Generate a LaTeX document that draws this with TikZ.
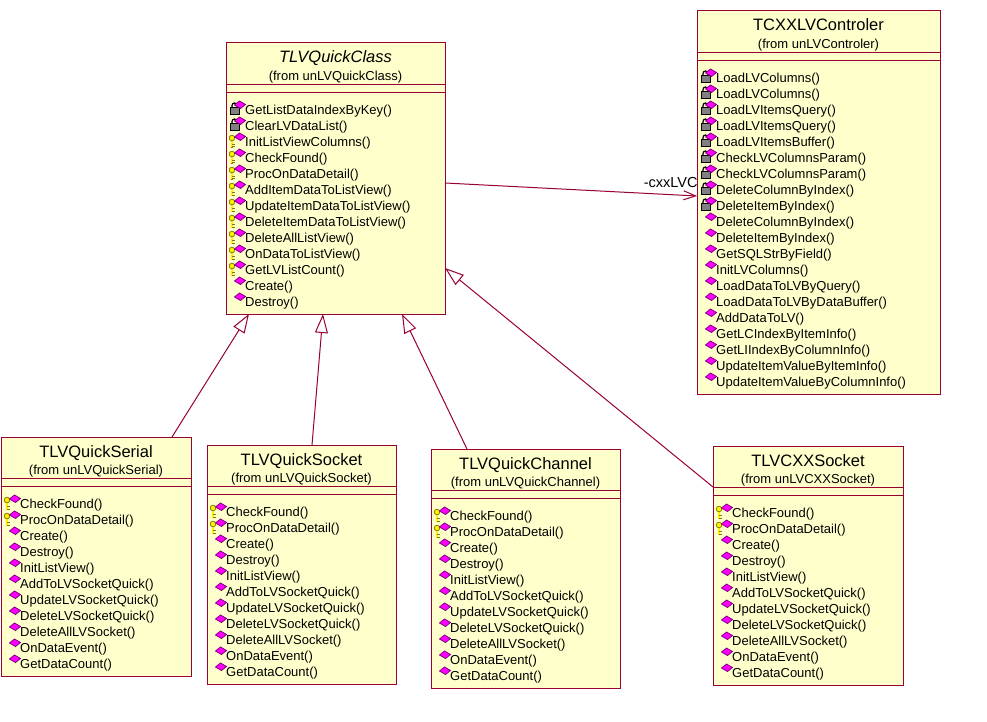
\documentclass[tikz,border=0pt]{standalone}
\usepackage{fontspec}
\setmainfont{Liberation Sans}
\usepackage{tikz}
\usetikzlibrary{%
	calc,%
	arrows.meta,%
	positioning
}

\definecolor{classfill}{HTML}{FFFFCC}
\definecolor{classedge}{HTML}{990033}
\definecolor{keyedge}{HTML}{808000}
\definecolor{iconpink}{HTML}{FF00FF}
\definecolor{iconedge}{HTML}{800080}

% Method icons
\newcommand{\diamondicon}{%
	\filldraw[fill=iconpink, draw=iconedge, line width=0.8pt] (8.5,-5) -- (13.5,-9) -- (19.5,-5.5) -- (14.5,-1.5) -- cycle;%
}
\newcommand{\lockicon}{%
	\draw[black, line width=1.2pt] (6,-3) -- (6,-4.5) arc[start angle=180, end angle=360, radius=2.5] -- (11,-3);%
	\filldraw[fill=gray, draw=black, line width=0.6pt] (4,-3) rectangle (13,4.5);%
}
\newcommand{\keyicon}{%
	\draw[keyedge, line width=2.6pt] (6,-1) -- (6,6);%
	\draw[yellow, line width=1.2pt] (6,-1) -- (6,5.5);%
	\draw[keyedge, line width=1pt] (6,2.5) -- (8.5,2.5) (6,5) -- (8.5,5);%
	\filldraw[fill=yellow, draw=keyedge, line width=0.8pt] (6,-4) circle (2.8);%
}

\tikzset{
	classbox/.style={draw=classedge, fill=classfill, line width=1pt, anchor=north west, inner sep=0pt, outer sep=0pt},
	classline/.style={draw=classedge, line width=1pt},
	classtitle/.style={font=\fontsize{16.5}{18}\selectfont, text height=12pt, text depth=0pt, inner sep=0pt},
	classfrom/.style={font=\fontsize{13}{15}\selectfont, text height=9.3pt, text depth=0pt, inner sep=0pt},
	method/.style={anchor=west, font=\fontsize{13}{15}\selectfont, text height=9.3pt, text depth=0pt, inner sep=0pt},
	inherit/.style={draw=classedge, line width=1pt, -{Triangle[open, length=19pt, width=13pt]}},
	assoc/.style={draw=classedge, line width=1pt, -{Straight Barb[length=12pt, width=9pt]}},
	assoclabel/.style={font=\fontsize{14.5}{16}\selectfont, text height=10pt, text depth=0pt, inner sep=0pt},
	icD/.pic={\diamondicon},
	icK/.pic={\keyicon\diamondicon},
	icL/.pic={\lockicon\diamondicon},
}

% name, position, width, height, title, package, methods
\newcommand{\umlclass}[7]{%
	\node[classbox, minimum width=#3, minimum height=#4] (#1) at #2 {};
	\node[classtitle] (#1-title) at ($(#1.north)+(0,14)$) {#5};
	\node[classfrom] (#1-from) at ($(#1.north)+(0,33)$) {(from #6)};
	\draw[classline] ($(#1.north west)+(0,41.5)$) -- ($(#1.north east)+(0,41.5)$);
	\draw[classline] ($(#1.north west)+(0,49.5)$) -- ($(#1.north east)+(0,49.5)$);
	\foreach \ico/\meth [count=\i from 0] in #7 {
		\pic at ($(#1.north west)+(0,67+16*\i)$) {ic\ico};
		\node[method] (#1-m\i) at ($(#1.north west)+(19,67+16*\i)$) {\meth()};
	}
}

\newcommand{\quickmethods}{L/GetListDataIndexByKey, L/ClearLVDataList, K/InitListViewColumns,
	K/CheckFound, K/ProcOnDataDetail, K/AddItemDataToListView, K/UpdateItemDataToListView,
	K/DeleteItemDataToListView, K/DeleteAllListView, K/OnDataToListView, K/GetLVListCount,
	D/Create, D/Destroy}
\newcommand{\ctrlmethods}{L/LoadLVColumns, L/LoadLVColumns, L/LoadLVItemsQuery, L/LoadLVItemsQuery,
	L/LoadLVItemsBuffer, L/CheckLVColumnsParam, L/CheckLVColumnsParam, L/DeleteColumnByIndex,
	L/DeleteItemByIndex, D/DeleteColumnByIndex, D/DeleteItemByIndex, D/GetSQLStrByField,
	D/InitLVColumns, D/LoadDataToLVByQuery, D/LoadDataToLVByDataBuffer, D/AddDataToLV,
	D/GetLCIndexByItemInfo, D/GetLIIndexByColumnInfo, D/UpdateItemValueByItemInfo,
	D/UpdateItemValueByColumnInfo}
\newcommand{\childmethods}{K/CheckFound, K/ProcOnDataDetail, D/Create, D/Destroy, D/InitListView,
	D/AddToLVSocketQuick, D/UpdateLVSocketQuick, D/DeleteLVSocketQuick, D/DeleteAllLVSocket,
	D/OnDataEvent, D/GetDataCount}

\begin{document}
\begin{tikzpicture}[x=1pt, y=-1pt]
	\fill[white] (0,0) rectangle (987,722);
	\useasboundingbox (0,0) rectangle (987,722);

	% Classes
	\umlclass{quick}{(226,43)}{219pt}{271pt}{\textit{TLVQuickClass}}{unLVQuickClass}{\quickmethods}
	\umlclass{ctrl}{(697,11)}{243pt}{383pt}{TCXXLVControler}{unLVControler}{\ctrlmethods}
	\umlclass{serial}{(1,437)}{190pt}{239pt}{TLVQuickSerial}{unLVQuickSerial}{\childmethods}
	\umlclass{socket}{(207,445)}{189pt}{239pt}{TLVQuickSocket}{unLVQuickSocket}{\childmethods}
	\umlclass{channel}{(431,449)}{189pt}{239pt}{TLVQuickChannel}{unLVQuickChannel}{\childmethods}
	\umlclass{cxxsocket}{(713,446)}{190pt}{239pt}{TLVCXXSocket}{unLVCXXSocket}{\childmethods}

	% Generalizations
	\draw[inherit] ($(serial.north west)+(171,0)$) -- ($(quick.south west)+(23,0)$);
	\draw[inherit] ($(socket.north west)+(105,0)$) -- ($(quick.south west)+(97,0)$);
	\draw[inherit] ($(channel.north west)+(36,0)$) -- ($(quick.south west)+(176,0)$);
	\draw[inherit] ($(cxxsocket.north west)+(0,41)$) -- ($(quick.north east)+(0,225)$);

	% Association
	\draw[assoc] ($(quick.north east)+(0,140)$) -- ($(ctrl.north west)+(0,185)$)
		node[pos=1, assoclabel, anchor=east, xshift=1pt, yshift=13pt] (cxxlvc) {-cxxLVC};
\end{tikzpicture}
\end{document}
